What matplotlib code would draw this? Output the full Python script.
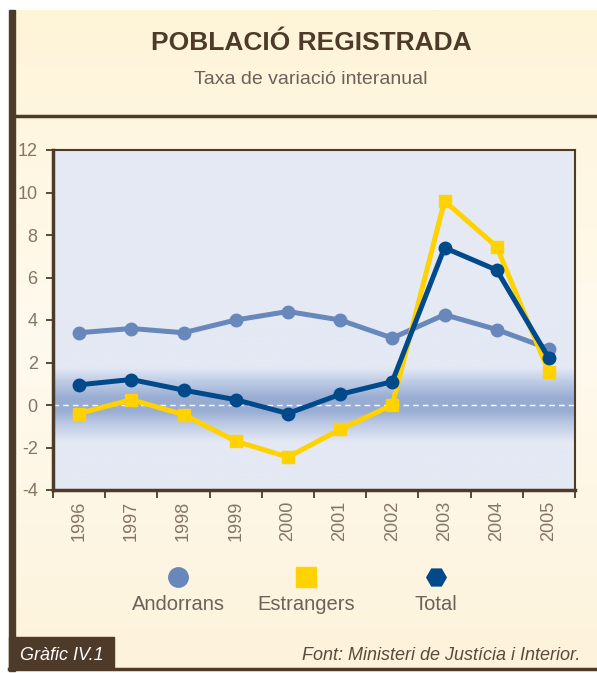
import numpy as np
import matplotlib
matplotlib.use("Agg")
import matplotlib.pyplot as plt
from matplotlib.colors import LinearSegmentedColormap
from matplotlib.patches import Rectangle

years = ["1996", "1997", "1998", "1999", "2000", "2001", "2002", "2003", "2004", "2005"]
andorrans = [3.4, 3.6, 3.4, 4.0, 4.4, 4.0, 3.15, 4.25, 3.55, 2.65]
estrangers = [-0.4, 0.25, -0.45, -1.7, -2.45, -1.15, 0.0, 9.6, 7.45, 1.55]
total = [0.95, 1.2, 0.7, 0.25, -0.4, 0.5, 1.1, 7.4, 6.35, 2.2]
series_names = ["Andorrans", "Estrangers", "Total"]

BROWN = "#4e3a28"
TXT = "#857565"
C_AND = "#6888bb"
C_EST = "#ffd200"
C_TOT = "#00498a"

plt.rcParams["font.family"] = ["Liberation Sans", "DejaVu Sans"]
plt.rcParams["axes.unicode_minus"] = False

W, H = 597, 673
fig = plt.figure(figsize=(W / 100, H / 100), dpi=100)

# page background
bg = fig.add_axes([0, 0, 1, 1], zorder=-10)
bg.set_xlim(0, W)
bg.set_ylim(H, 0)
bg.axis("off")
cream = LinearSegmentedColormap.from_list("cream", ["#fef4d8", "#fffaee", "#fdf3dc"])
grad = np.linspace(0, 1, 256).reshape(-1, 1)
bg.imshow(grad, cmap=cream, extent=[12, W, H - 5, 10], aspect="auto")
# frame
bg.add_patch(Rectangle((9, 10), 6, H - 12, color=BROWN))
bg.plot([12, W], [116, 116], color=BROWN, lw=2.5)
bg.plot([9, W], [H - 4, H - 4], color=BROWN, lw=2.5)
bg.add_patch(Rectangle((9, 637), 105, 32, color=BROWN))
bg.text(20, 655, "Gràfic IV.1", color="white", fontsize=13, style="italic",
        va="center", ha="left")
bg.text(580, 655, "Font: Ministeri de Justícia i Interior.", color="#5a4a3c",
        fontsize=13, style="italic", va="center", ha="right")
bg.text(311, 43, "POBLACIÓ REGISTRADA", color=BROWN, fontsize=19, fontweight="bold",
        ha="center", va="center")
bg.text(311, 79, "Taxa de variació interanual", color="#6e6258", fontsize=14,
        ha="center", va="center")

# legend
legend_x = [178, 306, 436]
for name, col, mk, x in zip(series_names, [C_AND, C_EST, C_TOT], ["o", "s", "H"], legend_x):
    bg.plot([x], [577], marker=mk, color=col, markersize=14, linestyle="none")
    bg.text(x, 605, name, color="#6e6258", fontsize=14.5, ha="center", va="center")

# main chart
ax = fig.add_axes([53 / W, 1 - 490 / H, 522 / W, 340 / H])
x = np.arange(len(years))
ax.set_xlim(-0.5, len(years) - 0.5)
ax.set_ylim(-4, 12)

band = LinearSegmentedColormap.from_list(
    "band", [(0.0, "#e4e9f4"), (0.28, "#e4e9f4"), (0.4, "#b8c6e2"), (0.46, "#9aaed3"),
             (0.54, "#98acd2"), (0.64, "#bfcce6"), (0.71, "#dfe5f2"), (0.725, "#e4e9f4"),
             (1.0, "#e4e9f4")])
yy = np.linspace(0, 1, 400).reshape(-1, 1)
ax.imshow(yy, cmap=band, extent=[-0.5, len(years) - 0.5, -4, 4], origin="lower",
          aspect="auto", zorder=0)
ax.add_patch(Rectangle((-0.5, 4), len(years), 8, color="#e4e9f4", zorder=0))
ax.axhline(0, color="white", lw=1, ls=(0, (4, 3)), zorder=1)

ax.plot(x, andorrans, color=C_AND, lw=3.6, marker="o", markersize=9, zorder=3)
ax.plot(x, estrangers, color=C_EST, lw=3.6, marker="s", markersize=8.5, zorder=4)
ax.plot(x, total, color=C_TOT, lw=3.6, marker="o", markersize=9, zorder=5)

ax.set_yticks(np.arange(-4, 13, 2))
ax.set_xticks(np.arange(-0.5, len(years), 1))
ax.set_xticklabels([])
ax.set_xticks(x, minor=True)
ax.set_xticklabels(years, minor=True, rotation=90, fontsize=13, color=TXT)
ax.tick_params(axis="x", which="minor", length=0, pad=8)
ax.tick_params(axis="x", which="major", length=6, width=1.3, color=BROWN, direction="out")
ax.tick_params(axis="y", length=5, width=1.3, color=BROWN, labelsize=13, labelcolor=TXT, pad=6)
for side in ["left", "bottom"]:
    ax.spines[side].set_linewidth(2.5)
    ax.spines[side].set_color(BROWN)
for side in ["top", "right"]:
    ax.spines[side].set_linewidth(1.5)
    ax.spines[side].set_color(BROWN)

fig.savefig("out.png", dpi=100)
